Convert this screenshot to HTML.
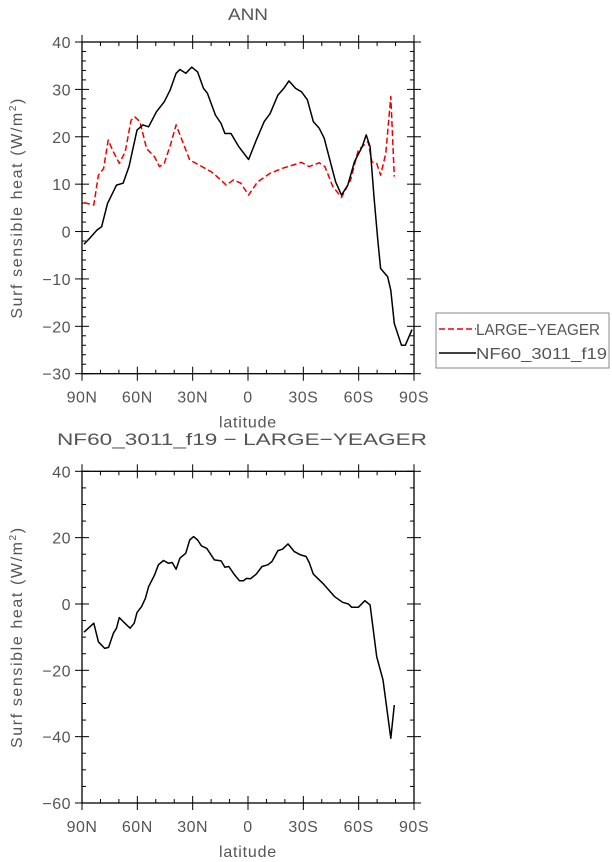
<!DOCTYPE html>
<html><head><meta charset="utf-8"><style>
html,body{margin:0;padding:0;background:#fff;}
svg{display:block;font-family:"Liberation Sans",sans-serif;}
text{fill:#555;}
</style></head><body>
<svg id="chart" width="612" height="862" viewBox="0 0 612 862" xmlns="http://www.w3.org/2000/svg">
<text x="248" y="20" font-size="17" text-anchor="middle" textLength="40" lengthAdjust="spacingAndGlyphs">ANN</text>
<text x="57" y="445" font-size="17" textLength="370" lengthAdjust="spacingAndGlyphs">NF60_3011_f19 − LARGE−YEAGER</text>
<g id="top"></g>
<g id="bot"></g>
<g>
<rect x="436" y="313" width="173" height="55" fill="#fff" stroke="#888" stroke-width="1"/>
<line x1="439" y1="329" x2="476" y2="329" stroke="#e00" stroke-width="1.5" stroke-dasharray="6,3"/>
<text x="476" y="335" font-size="16" textLength="124" lengthAdjust="spacingAndGlyphs">LARGE−YEAGER</text>
<line x1="439" y1="353" x2="476" y2="353" stroke="#000" stroke-width="1.5"/>
<text x="476" y="359" font-size="16" textLength="131" lengthAdjust="spacingAndGlyphs">NF60_3011_f19</text>
</g>
</svg>
<script>
const xTicks=[90,60,30,0,-30,-60,-90];
const xTickLabels=["90N","60N","30N","0","30S","60S","90S"];
const topYTicks=[40,30,20,10,0,-10,-20,-30];
const botYTicks=[40,20,0,-20,-40,-60];
const redLat=[88.9,83.6,81.1,78.3,75.8,73,69.8,66.6,63.4,61.3,58.6,55,50.7,48,45.4,41.8,39,35.8,31.6,26.3,19.9,15.6,11.8,7.8,3.9,-0.3,-5.2,-12,-18.4,-29,-33.2,-38.6,-41.7,-46,-50.7,-55.6,-59.8,-65.1,-67.2,-69.8,-71.9,-74.7,-77.4,-79.3];
const redVal=[6.1,5.6,11.9,13.3,19.3,16.8,14.4,16.8,23.5,24.2,23.2,17.5,15.8,13.7,14.4,18.6,22.5,19.3,15.1,14.0,12.6,11.2,9.8,10.9,10.2,7.7,10.5,12.3,13.3,14.6,13.7,14.5,13.7,9.5,7.2,10.9,17.2,19.0,14.7,14.4,11.9,16.5,28.5,11.6];
const blkLat=[88.9,85.8,81.9,79.4,76.2,71.3,67.7,64.5,60.2,57,53.9,49.6,45.4,42.2,39,36.9,33.7,30.5,27.3,24.1,22,17.7,14.6,12.5,9.2,5,-0.3,-4.5,-8.8,-12,-16.2,-19.4,-22.2,-25.8,-29,-32.2,-35.4,-38.6,-41.3,-43.9,-47.5,-50.7,-54.1,-57.7,-61.9,-64.1,-66.2,-68.3,-70.4,-71.9,-75.7,-77.4,-79.3,-83.2,-85.3,-88.9];
const blkVal=[-2.7,-1.4,0.3,1.0,5.9,9.8,10.2,13.7,21.4,22.5,22.1,25.3,27.4,29.9,33.4,34.2,33.4,34.7,33.7,30.2,29.2,24.6,22.8,20.7,20.7,17.9,15.2,19.3,23.2,24.9,28.8,30.2,31.8,30.2,29.5,27.8,23.2,21.8,19.7,15.8,10.5,7.7,9.8,14.7,17.9,20.4,17.9,7.3,-1.8,-7.8,-9.5,-12.4,-19.4,-24.0,-24.0,-20.7];
const diffLat=[88.9,83.6,81.1,77.7,75.6,73,71.3,69.8,67.1,63.9,61.7,60.2,57.7,55.6,53.9,50.7,48.6,45.8,43.2,41.1,39,36.9,33.7,31.6,29.5,27.3,25.2,22.4,18.2,14.6,12.5,10.4,7.6,4.6,2.5,0.8,-1.3,-4.5,-7.6,-10.8,-13,-16.2,-18.7,-21.7,-25.1,-28.5,-31.5,-33.2,-35.4,-40.6,-47,-51.3,-54.5,-56.2,-59.8,-63.4,-66.2,-69.8,-73.2,-77.4,-79.3];
const diffVal=[-8.5,-5.8,-11.4,-13.4,-13.1,-8.8,-7.3,-4.1,-5.6,-7.3,-5.8,-2.6,-0.8,1.7,5.2,8.7,11.8,13.1,12.3,12.5,10.5,13.8,15.3,19.3,20.3,19.3,17.5,16.8,13.3,13.0,11.1,11.3,9.0,7.0,7.0,7.7,7.6,9.0,11.3,11.8,12.8,16.1,16.5,18.1,15.8,14.8,14.3,12.5,9.0,6.2,2.2,0.5,0,-1.0,-1.0,1.0,-0.3,-15.9,-22.9,-40.5,-30.5];

const NS="http://www.w3.org/2000/svg";
function mk(parent,tag,attrs){const e=document.createElementNS(NS,tag);for(const k in attrs)e.setAttribute(k,attrs[k]);parent.appendChild(e);return e;}
function panel(g,cfg){
  const X0=82,X1=414;
  const xs=lat=>X0+(90-lat)/180*(X1-X0);
  const ys=v=>cfg.yTop+(cfg.ymax-v)/(cfg.ymax-cfg.ymin)*(cfg.yBot-cfg.yTop);
  const fr=mk(g,'rect',{x:X0,y:cfg.yTop,width:X1-X0,height:cfg.yBot-cfg.yTop,fill:'none',stroke:'#000','stroke-width':1.3});
  
  
  for(let lat=90;lat>=-90;lat-=10){
    const x=xs(lat);const major=lat%30===0;
    const a=major?7:4;
    mk(g,'line',{x1:x,x2:x,y1:cfg.yBot-a,y2:cfg.yBot+(major?7:0),stroke:'#000'});
    mk(g,'line',{x1:x,x2:x,y1:cfg.yTop+a,y2:cfg.yTop-(major?7:0),stroke:'#000'});
  }
  for(let v=cfg.ymin;v<=cfg.ymax+1e-9;v+=cfg.minor){
    const y=ys(v);const major=Math.abs(v%cfg.major)<1e-9;
    const a=major?7:4;
    mk(g,'line',{x1:X0-(major?7:0),x2:X0+a,y1:y,y2:y,stroke:'#000'});
    mk(g,'line',{x1:X1+(major?7:0),x2:X1-a,y1:y,y2:y,stroke:'#000'});
  }
  xTicks.forEach((t,i)=>{const e=mk(g,'text',{x:xs(t),y:cfg.yBot+29,'font-size':16,'text-anchor':'middle','letter-spacing':'0.5'});e.textContent=xTickLabels[i];
    
    });
  cfg.yticks.forEach(t=>{const e=mk(g,'text',{x:X0-11,y:ys(t)+6,'font-size':16,'text-anchor':'end','letter-spacing':'0.5'});e.textContent=(t<0?'−':'')+Math.abs(t);
    
    });
  const xl=mk(g,'text',{x:248,y:cfg.yBot+54,'font-size':16,'text-anchor':'middle','letter-spacing':'0.8'});xl.textContent='latitude';
  
  
  const yc=(cfg.yTop+cfg.yBot)/2;
  const yl=mk(g,'text',{x:0,y:0,'font-size':16,'text-anchor':'middle','letter-spacing':'1.6',transform:`translate(22,${yc}) rotate(-90)`});
  yl.innerHTML='Surf sensible heat (W/m<tspan dy="-6" font-size="10">2</tspan><tspan dy="6">)</tspan>';
  
  
  cfg.series.forEach(s=>{
    const d=s.lat.map((l,i)=>(i?'L':'M')+xs(l).toFixed(1)+','+ys(s.val[i]).toFixed(1)).join('');
    const p=mk(g,'path',{d:d,fill:'none',stroke:s.color,'stroke-width':1.5,'stroke-linejoin':'round'});
    if(s.dash)p.setAttribute('stroke-dasharray',s.dash);
    
    
  });
}
panel(document.getElementById('top'),{yTop:42,yBot:373.7,ymin:-30,ymax:40,major:10,minor:2,yticks:topYTicks,
  series:[{lat:redLat,val:redVal,color:'#e00',dash:'6,3',name:'large-yeager-line'},{lat:blkLat,val:blkVal,color:'#000',name:'nf60-line'}]});
panel(document.getElementById('bot'),{yTop:471.3,yBot:803,ymin:-60,ymax:40,major:20,minor:5,yticks:botYTicks,
  series:[{lat:diffLat,val:diffVal,color:'#000',name:'difference-line'}]});
</script>
</body></html>
